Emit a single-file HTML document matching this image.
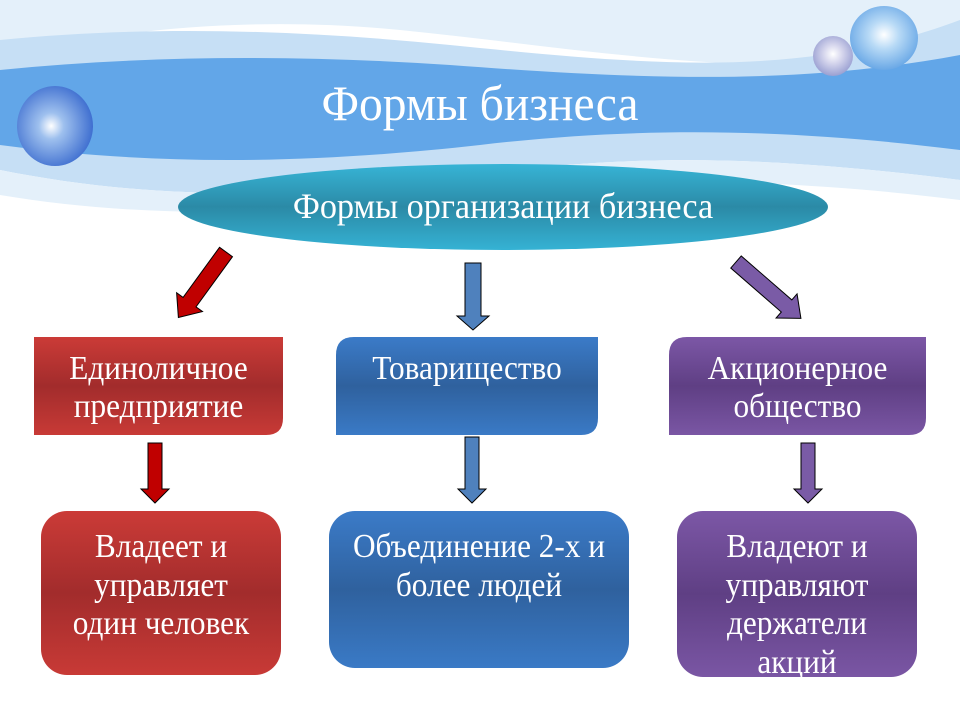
<!DOCTYPE html>
<html><head><meta charset="utf-8"><style>
html,body{margin:0;padding:0;background:#fff}
body{width:960px;height:720px;position:relative;overflow:hidden;font-family:"Liberation Serif",serif}
.t{position:absolute;color:#fff;text-align:center;white-space:nowrap;transform-origin:center}
.b{font-size:34px;transform:scaleX(0.92)}
</style></head><body>
<svg width="960" height="720" style="position:absolute;left:0;top:0">
<defs>
<linearGradient id="red" x1="0" y1="0" x2="0" y2="1"><stop offset="0" stop-color="#cb3b37"/><stop offset="0.5" stop-color="#a22c2c"/><stop offset="1" stop-color="#c83a36"/></linearGradient>
<linearGradient id="blue" x1="0" y1="0" x2="0" y2="1"><stop offset="0" stop-color="#3b7bc8"/><stop offset="0.5" stop-color="#2f619e"/><stop offset="1" stop-color="#3a7ac6"/></linearGradient>
<linearGradient id="pur" x1="0" y1="0" x2="0" y2="1"><stop offset="0" stop-color="#7c57a6"/><stop offset="0.5" stop-color="#5f3f84"/><stop offset="1" stop-color="#7a56a4"/></linearGradient>
<linearGradient id="ell" x1="0" y1="0" x2="0" y2="1"><stop offset="0" stop-color="#37b4d6"/><stop offset="0.5" stop-color="#2b8aa6"/><stop offset="1" stop-color="#35b2d4"/></linearGradient>
<radialGradient id="bub" cx="0.45" cy="0.5" r="0.55"><stop offset="0" stop-color="#fff"/><stop offset="0.3" stop-color="#9ec0ee"/><stop offset="1" stop-color="#3f6fd0"/></radialGradient>
<radialGradient id="bub2" cx="0.5" cy="0.45" r="0.55"><stop offset="0" stop-color="#fff"/><stop offset="0.4" stop-color="#b8daf6"/><stop offset="1" stop-color="#6aa8e6"/></radialGradient>
<radialGradient id="bub3" cx="0.5" cy="0.45" r="0.55"><stop offset="0" stop-color="#fff"/><stop offset="0.4" stop-color="#d8d8ee"/><stop offset="1" stop-color="#9aa0d2"/></radialGradient>
</defs>
<rect width="960" height="720" fill="#fff"/>
<path d="M0 0H960V40C800 90 600 50 400 30 250 15 100 30 0 60Z" fill="#e4f0fa"/>
<path d="M0 40C150 25 300 30 450 45 650 65 800 80 960 20V180C800 160 650 150 480 175 300 200 150 200 0 170Z" fill="#c6dff5"/>
<path d="M0 70C150 55 300 55 450 65 650 80 800 85 960 55V150C800 130 650 125 480 145 300 165 150 165 0 145Z" fill="#62a6e8"/>
<path d="M0 170C150 200 300 200 480 175 650 150 800 160 960 180V200C800 180 650 175 480 195 300 215 150 220 0 195Z" fill="#e4f0fa"/>
<ellipse cx="55" cy="126" rx="38" ry="40" fill="url(#bub)"/>
<ellipse cx="884" cy="38" rx="34" ry="32" fill="url(#bub2)"/>
<ellipse cx="833" cy="56" rx="20" ry="20" fill="url(#bub3)"/>
<ellipse cx="503" cy="207" rx="325" ry="43" fill="url(#ell)"/>
<path d="M34 337H283V418Q283 435 266 435H34V337Z" fill="url(#red)"/>
<path d="M354 337H598V418Q598 435 581 435H336V355Q336 337 354 337Z" fill="url(#blue)"/>
<path d="M687 337H926V418Q926 435 909 435H669V355Q669 337 687 337Z" fill="url(#pur)"/>
<rect x="41" y="511" width="240" height="164" rx="26" fill="url(#red)"/>
<rect x="329" y="511" width="300" height="157" rx="26" fill="url(#blue)"/>
<rect x="677" y="511" width="240" height="166" rx="26" fill="url(#pur)"/>
<g stroke="#000" stroke-width="1">
<path transform="translate(226,252) rotate(36)" d="M-8 0H8V62H16L0 81L-16 62H-8Z" fill="#c00000"/>
<path transform="translate(473,263)" d="M-8 0H8V53H16L0 67L-16 53H-8Z" fill="#4f81bd"/>
<path transform="translate(736,262) rotate(-49)" d="M-8 0H8V67H16L0 86L-16 67H-8Z" fill="#7a5ba6"/>
<path transform="translate(155,443)" d="M-7 0H7V46H14L0 60L-14 46H-7Z" fill="#c00000"/>
<path transform="translate(472,437)" d="M-7 0H7V52H14L0 66L-14 52H-7Z" fill="#4f81bd"/>
<path transform="translate(808,443)" d="M-7 0H7V46H14L0 60L-14 46H-7Z" fill="#7a5ba6"/>
</g>
</svg>
<div class="t" style="left:230px;top:76px;width:500px;font-size:50px;line-height:54px;transform:scaleX(0.95)">Формы бизнеса</div>
<div class="t" style="left:153px;top:185px;width:700px;font-size:36px;line-height:42px;transform:scaleX(0.95)">Формы организации бизнеса</div>
<div class="t b" style="left:34px;top:350px;width:249px;line-height:38px">Единоличное<br>предприятие</div>
<div class="t b" style="left:336px;top:350px;width:262px;line-height:38px">Товарищество</div>
<div class="t b" style="left:669px;top:350px;width:257px;line-height:38px">Акционерное<br>общество</div>
<div class="t b" style="left:21px;top:528px;width:280px;line-height:38.5px">Владеет и<br>управляет<br>один человек</div>
<div class="t b" style="left:299px;top:528px;width:360px;line-height:38.5px">Объединение 2-х и<br>более людей</div>
<div class="t b" style="left:657px;top:528px;width:280px;line-height:38.5px">Владеют и<br>управляют<br>держатели<br>акций</div>
</body></html>
